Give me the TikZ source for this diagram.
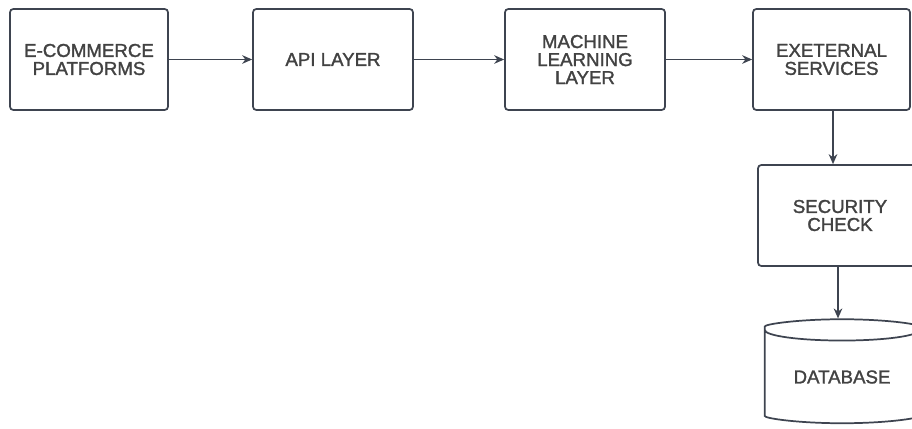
\documentclass[tikz,border=0pt]{standalone}
\usepackage{fontspec}
\setmainfont[FakeBold=1.5]{Liberation Sans}
\usetikzlibrary{arrows.meta,shapes.geometric}
\definecolor{edgegrey}{RGB}{62,68,80}
\definecolor{textgrey}{RGB}{66,66,66}
\tikzset{every picture/.style={line width=1.3pt}}
\tikzset{
	layerbox/.style={draw=edgegrey, fill=white, rounded corners=2.5pt, align=center, text=textgrey, font=\fontsize{14}{13.5}\selectfont, inner sep=0pt},
	flow/.style={draw=edgegrey, line width=1.1pt, -{Stealth[length=7.5pt,width=6.5pt]}}}

\begin{document}
\begin{tikzpicture}[x=0.75pt,y=0.75pt,yscale=-1,xscale=1]
	\useasboundingbox (0,0) rectangle (912,428);

	%Shape: Rectangle
	\node [layerbox, minimum width=118.5pt, minimum height=75.75pt] (ecom) at (89,59.5) {E-COMMERCE\\PLATFORMS};
	%Shape: Rectangle
	\node [layerbox, minimum width=120pt, minimum height=75.75pt] (api) at (333,59.5) {API LAYER};
	%Shape: Rectangle
	\node [layerbox, minimum width=120pt, minimum height=75.75pt] (ml) at (585,59.5) {MACHINE\\LEARNING\\LAYER};
	%Shape: Rectangle
	\node [layerbox, minimum width=117.75pt, minimum height=75.75pt] (ext) at (831.5,59.5) {EXETERNAL\\SERVICES};
	%Shape: Rectangle
	\node [layerbox, minimum width=123pt, minimum height=75.75pt] (sec) at (840,215.5) {SECURITY\\CHECK};
	%Shape: Can
	\node [layerbox, cylinder, shape border rotate=90, aspect=0.22, minimum width=116pt, minimum height=78pt] (db) at (842,377) {DATABASE};

	%Straight Lines
	\draw [flow] (ecom) -- (api) ;
	%Straight Lines
	\draw [flow] (api) -- (ml) ;
	%Straight Lines
	\draw [flow] (ml) -- (ext) ;
	%Straight Lines
	\draw [flow] (ext.south -| 833,0) -- (sec.north -| 833,0) ;
	%Straight Lines
	\draw [flow] (sec.south -| 838,0) -- (db.north -| 838,0) ;

\end{tikzpicture}
\end{document}
